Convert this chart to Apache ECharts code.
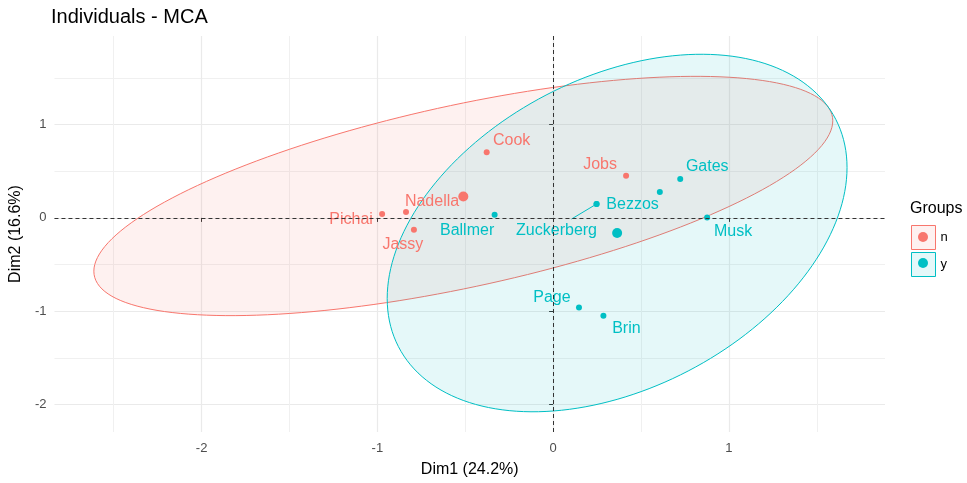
<!DOCTYPE html>
<html>
<head>
<meta charset="utf-8">
<script src="https://cdn.jsdelivr.net/npm/echarts@6/dist/echarts.min.js"></script>
<style>
  html, body { margin: 0; padding: 0; background: #ffffff; }
  #chart { width: 967px; height: 483px; }
</style>
</head>
<body>
<div id="chart"></div>
<script>
// Individuals on the first two MCA dimensions, coloured by group
const nNames = ['Cook', 'Jobs', 'Nadella', 'Pichai', 'Jassy'];
const nDim1 = [-0.378, 0.415, -0.837, -0.973, -0.792];
const nDim2 = [0.704, 0.452, 0.062, 0.041, -0.127];

const yNames = ['Ballmer', 'Zuckerberg', 'Bezzos', 'Gates', '', 'Musk', 'Page', 'Brin'];
const yDim1 = [-0.333, 0.247, 0.247, 0.723, 0.607, 0.876, 0.147, 0.286];
const yDim2 = [0.034, 0.149, 0.149, 0.418, 0.278, 0.005, -0.961, -1.048];

// group mean points
const nCentre = [-0.511, 0.229];
const yCentre = [0.364, -0.162];

// concentration ellipses: centre and shape matrix [var(Dim1), var(Dim2), cov]
const nEllipse = { centre: [-0.511, 0.235], shape: [4.418, 1.645, 1.695] };
const yEllipse = { centre: [0.364, -0.162], shape: [1.711, 3.672, 0.918] };

const groups = ['n', 'y'];
const xTicks = [-2, -1, 0, 1];
const yTicks = [-2, -1, 0, 1];
const dimLabels = ['Dim1 (24.2%)', 'Dim2 (16.6%)'];

// ---- styling ----
const FONT = 'Liberation Sans, Arial, sans-serif';
const RED = '#F8766D';
const TEAL = '#00BFC4';
const RED_FILL = 'rgba(248,118,109,0.1)';
const TEAL_FILL = 'rgba(0,191,196,0.1)';
const MAJOR_GRID = { color: '#EAEAEA', width: 1.2 };
const MINOR_GRID = { color: '#F0F0F0', width: 1 };

// repelled label displacement (px) relative to each point
const labelShift = {
  Cook: [25, -12], Jobs: [-26, -11], Nadella: [26, -11], Pichai: [-31, 6],
  Jassy: [-11, 15], Ballmer: [-27.5, 16], Zuckerberg: [-40, 27], Bezzos: [36, 1],
  Gates: [27, -12], Musk: [26, 14], Page: [-27, -10], Brin: [23, 13]
};
// leader segment from a point towards its displaced label (px)
const leaderShift = { Zuckerberg: [-25, 15] };

function ellipsePath(e, steps) {
  const [a11, a22, a12] = e.shape;
  const l11 = Math.sqrt(a11);
  const l21 = a12 / l11;
  const l22 = Math.sqrt(a22 - l21 * l21);
  const pts = [];
  for (let i = 0; i < steps; i++) {
    const t = (2 * Math.PI * i) / steps;
    const u = Math.cos(t), v = Math.sin(t);
    pts.push([e.centre[0] + l11 * u, e.centre[1] + l21 * u + l22 * v]);
  }
  return pts;
}

function ellipseSeries(name, e, fill, stroke) {
  const pts = ellipsePath(e, 180);
  return {
    type: 'custom',
    name: name,
    coordinateSystem: 'cartesian2d',
    silent: true,
    z: 1,
    data: [e.centre],
    renderItem: function (params, api) {
      return {
        type: 'polygon',
        shape: { points: pts.map(p => api.coord(p)) },
        style: { fill: fill, stroke: stroke, lineWidth: 1 }
      };
    }
  };
}

function leaderSeries(name, names, d1, d2, color) {
  const items = [];
  names.forEach((nm, i) => {
    if (leaderShift[nm]) items.push({ name: nm, value: [d1[i], d2[i]] });
  });
  return {
    type: 'custom',
    name: name,
    coordinateSystem: 'cartesian2d',
    silent: true,
    z: 2,
    data: items,
    renderItem: function (params, api) {
      const p = api.coord([api.value(0), api.value(1)]);
      const s = leaderShift[items[params.dataIndex].name];
      return {
        type: 'line',
        shape: { x1: p[0], y1: p[1], x2: p[0] + s[0], y2: p[1] + s[1] },
        style: { stroke: color, lineWidth: 1 }
      };
    }
  };
}

function pointSeries(name, names, d1, d2, color, extra) {
  return Object.assign({
    type: 'scatter',
    name: name,
    z: 3,
    symbol: 'circle',
    symbolSize: 6,
    silent: true,
    itemStyle: { color: color, opacity: 1 },
    data: d1.map((x, i) => ({ name: names[i], value: [x, d2[i]] })),
    label: {
      show: true,
      position: 'inside',
      formatter: '{b}',
      color: color,
      fontFamily: FONT,
      fontSize: 16,
      align: 'center',
      verticalAlign: 'middle'
    },
    labelLayout: function (p) {
      const s = labelShift[p.text] || [0, 0];
      return { dx: s[0], dy: s[1] };
    }
  }, extra || {});
}

function centreSeries(name, c, color) {
  return {
    type: 'scatter',
    name: name,
    z: 4,
    silent: true,
    symbolSize: 10,
    itemStyle: { color: color, opacity: 1 },
    data: [c]
  };
}

const chart = echarts.init(document.getElementById('chart'), null, { renderer: 'canvas' });

chart.setOption({
  animation: false,
  backgroundColor: '#ffffff',
  textStyle: { fontFamily: FONT },
  title: [
    {
      text: 'Individuals - MCA', left: 51, top: 7, padding: 0,
      textStyle: { fontFamily: FONT, fontSize: 20, fontWeight: 'normal', color: '#000000' }
    },
    {
      text: 'Groups', left: 910, top: 201, padding: 0,
      textStyle: { fontFamily: FONT, fontSize: 16, fontWeight: 'normal', color: '#000000' }
    }
  ],
  legend: [
    {
      orient: 'vertical', left: 911, top: 225, padding: 0,
      itemWidth: 24, itemHeight: 24, itemGap: 2,
      selectedMode: false,
      textStyle: { fontFamily: FONT, fontSize: 13, color: '#000000' },
      data: [
        { name: groups[0], icon: 'rect', itemStyle: { color: RED_FILL, borderColor: RED, borderWidth: 1 } },
        { name: groups[1], icon: 'rect', itemStyle: { color: TEAL_FILL, borderColor: TEAL, borderWidth: 1 } }
      ]
    },
    {
      orient: 'vertical', left: 918, top: 232, padding: 0,
      itemWidth: 10, itemHeight: 10, itemGap: 16,
      selectedMode: false,
      textStyle: { fontSize: 8, lineHeight: 10, color: 'rgba(0,0,0,0)' },
      data: [
        { name: groups[0], icon: 'circle', itemStyle: { color: RED, borderWidth: 0 } },
        { name: groups[1], icon: 'circle', itemStyle: { color: TEAL, borderWidth: 0 } }
      ]
    }
  ],
  grid: { left: 51, right: 82, top: 36, bottom: 41.6, containLabel: false },
  xAxis: {
    type: 'value',
    min: -2.837, max: 1.888, splitNumber: 5,
    name: dimLabels[0], nameLocation: 'middle', nameGap: 30,
    nameTextStyle: { fontFamily: FONT, fontSize: 16, color: '#000000' },
    axisLine: { show: false },
    axisTick: { show: true, length: 4, customValues: xTicks, lineStyle: { color: '#333333', width: 1 } },
    axisLabel: { customValues: xTicks, margin: 10, color: '#4D4D4D', fontSize: 13, fontFamily: FONT },
    splitLine: { show: true, lineStyle: MAJOR_GRID },
    minorTick: { show: false, splitNumber: 2 },
    minorSplitLine: { show: true, lineStyle: MINOR_GRID }
  },
  yAxis: {
    type: 'value',
    min: -2.295, max: 1.95, splitNumber: 5,
    name: dimLabels[1], nameLocation: 'middle', nameGap: 19, nameRotate: 90,
    nameTextStyle: { fontFamily: FONT, fontSize: 16, color: '#000000' },
    axisLine: { show: false },
    axisTick: { show: true, length: 4, customValues: yTicks, lineStyle: { color: '#333333', width: 1 } },
    axisLabel: { customValues: yTicks, margin: 8, color: '#4D4D4D', fontSize: 13, fontFamily: FONT },
    splitLine: { show: true, lineStyle: MAJOR_GRID },
    minorTick: { show: false, splitNumber: 2 },
    minorSplitLine: { show: true, lineStyle: MINOR_GRID }
  },
  series: [
    ellipseSeries(groups[0], nEllipse, RED_FILL, RED),
    ellipseSeries(groups[1], yEllipse, TEAL_FILL, TEAL),
    leaderSeries(groups[1], yNames, yDim1, yDim2, TEAL),
    pointSeries(groups[0], nNames, nDim1, nDim2, RED, {
      markLine: {
        silent: true,
        symbol: ['none', 'none'],
        label: { show: false },
        lineStyle: { color: '#333333', width: 1, type: [4, 3] },
        data: [{ xAxis: 0 }, { yAxis: 0 }]
      }
    }),
    pointSeries(groups[1], yNames, yDim1, yDim2, TEAL),
    centreSeries(groups[0], nCentre, RED),
    centreSeries(groups[1], yCentre, TEAL)
  ]
});
</script>
</body>
</html>
